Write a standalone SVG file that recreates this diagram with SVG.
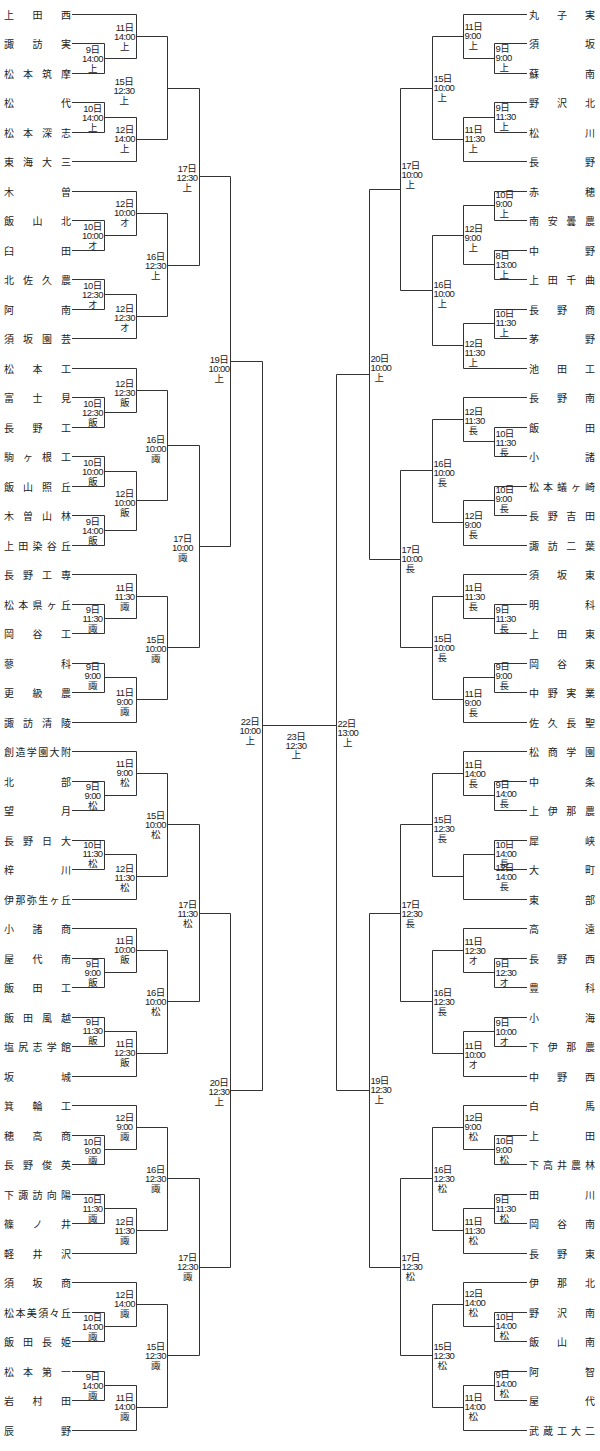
<svg xmlns="http://www.w3.org/2000/svg" width="600" height="1451" viewBox="0 0 600 1451">
<style>
.c{fill:none;stroke:#333;stroke-width:1}
.t{font-family:'Noto Sans CJK JP','Noto Sans CJK SC',sans-serif;font-size:10px;fill:#222}
.l{font-family:'Liberation Sans','Noto Sans CJK JP',sans-serif;font-size:9.5px;fill:#222;letter-spacing:-0.6px}
.l text{text-anchor:middle}
.r text{text-anchor:start}
.r .v{text-anchor:middle}
</style>
<rect width="600" height="1451" fill="#fff"/>
<g id="connectors" class="c">
<path d="M72 14.5H136.5M72 43.5H104.5M72 73.5H104.5M72 102.5H104.5M72 132.5H104.5M72 161.5H136.5M72 191.5H136.5M72 220.5H104.5M72 250.5H104.5M72 279.5H104.5M72 309.5H104.5M72 338.5H136.5M72 368.5H136.5M72 397.5H104.5M72 427.5H104.5M72 456.5H104.5M72 486.5H104.5M72 515.5H104.5M72 545.5H104.5M72 574.5H136.5M72 604.5H104.5M72 633.5H104.5M72 663.5H104.5M72 692.5H104.5M72 722.5H136.5M72 751.5H136.5M72 781.5H104.5M72 810.5H104.5M72 840.5H104.5M72 869.5H104.5M72 899.5H136.5M72 928.5H136.5M72 958.5H104.5M72 987.5H104.5M72 1017.5H104.5M72 1046.5H104.5M72 1076.5H136.5M72 1105.5H136.5M72 1135.5H104.5M72 1164.5H104.5M72 1194.5H104.5M72 1223.5H104.5M72 1253.5H136.5M72 1282.5H136.5M72 1312.5H104.5M72 1341.5H104.5M72 1371.5H104.5M72 1400.5H104.5M72 1430.5H136.5"/>
<path d="M104.5 43.5V73.5M104.5 58.5H136.5M104.5 102.5V132.5M104.5 117.5H136.5M104.5 220.5V250.5M104.5 235.5H136.5M104.5 279.5V309.5M104.5 294.5H136.5M104.5 397.5V427.5M104.5 412.5H136.5M104.5 456.5V486.5M104.5 471.5H136.5M104.5 515.5V545.5M104.5 530.5H136.5M104.5 604.5V633.5M104.5 618.5H136.5M104.5 663.5V692.5M104.5 677.5H136.5M104.5 781.5V810.5M104.5 795.5H136.5M104.5 840.5V869.5M104.5 854.5H136.5M104.5 958.5V987.5M104.5 972.5H136.5M104.5 1017.5V1046.5M104.5 1031.5H136.5M104.5 1135.5V1164.5M104.5 1149.5H136.5M104.5 1194.5V1223.5M104.5 1208.5H136.5M104.5 1312.5V1341.5M104.5 1326.5H136.5M104.5 1371.5V1400.5M104.5 1385.5H136.5"/>
<path d="M136.5 14.5V58.5M136.5 36.5H167.5M136.5 117.5V161.5M136.5 139.5H167.5M136.5 191.5V235.5M136.5 213.5H167.5M136.5 294.5V338.5M136.5 316.5H167.5M136.5 368.5V412.5M136.5 390.5H167.5M136.5 471.5V530.5M136.5 500.5H167.5M136.5 574.5V618.5M136.5 596.5H167.5M136.5 677.5V722.5M136.5 699.5H167.5M136.5 751.5V795.5M136.5 773.5H167.5M136.5 854.5V899.5M136.5 876.5H167.5M136.5 928.5V972.5M136.5 950.5H167.5M136.5 1031.5V1076.5M136.5 1053.5H167.5M136.5 1105.5V1149.5M136.5 1127.5H167.5M136.5 1208.5V1253.5M136.5 1230.5H167.5M136.5 1282.5V1326.5M136.5 1304.5H167.5M136.5 1385.5V1430.5M136.5 1407.5H167.5"/>
<path d="M167.5 36.5V139.5M167.5 88.5H199.5M167.5 213.5V316.5M167.5 265.5H199.5M167.5 390.5V500.5M167.5 445.5H199.5M167.5 596.5V699.5M167.5 647.5H199.5M167.5 773.5V876.5M167.5 824.5H199.5M167.5 950.5V1053.5M167.5 1001.5H199.5M167.5 1127.5V1230.5M167.5 1178.5H199.5M167.5 1304.5V1407.5M167.5 1355.5H199.5"/>
<path d="M199.5 88.5V265.5M199.5 176.5H230.5M199.5 445.5V647.5M199.5 546.5H230.5M199.5 824.5V1001.5M199.5 913.5H230.5M199.5 1178.5V1355.5M199.5 1267.5H230.5"/>
<path d="M230.5 176.5V546.5M230.5 361.5H262.5M230.5 913.5V1267.5M230.5 1090.5H262.5M262.5 361.5V1090.5M262.5 725.5H336.5"/>
<path d="M463.5 14.5H527M494.5 43.5H527M494.5 73.5H527M494.5 102.5H527M494.5 132.5H527M463.5 161.5H527M494.5 191.5H527M494.5 220.5H527M494.5 250.5H527M494.5 279.5H527M494.5 309.5H527M494.5 338.5H527M463.5 368.5H527M463.5 397.5H527M494.5 427.5H527M494.5 456.5H527M494.5 486.5H527M494.5 515.5H527M463.5 545.5H527M463.5 574.5H527M494.5 604.5H527M494.5 633.5H527M494.5 663.5H527M494.5 692.5H527M463.5 722.5H527M463.5 751.5H527M494.5 781.5H527M494.5 810.5H527M494.5 840.5H527M494.5 869.5H527M463.5 899.5H527M463.5 928.5H527M494.5 958.5H527M494.5 987.5H527M494.5 1017.5H527M494.5 1046.5H527M463.5 1076.5H527M463.5 1105.5H527M494.5 1135.5H527M494.5 1164.5H527M494.5 1194.5H527M494.5 1223.5H527M463.5 1253.5H527M463.5 1282.5H527M494.5 1312.5H527M494.5 1341.5H527M494.5 1371.5H527M494.5 1400.5H527M463.5 1430.5H527"/>
<path d="M494.5 43.5V73.5M494.5 58.5H463.5M494.5 102.5V132.5M494.5 117.5H463.5M494.5 191.5V220.5M494.5 205.5H463.5M494.5 250.5V279.5M494.5 264.5H463.5M494.5 309.5V338.5M494.5 323.5H463.5M494.5 427.5V456.5M494.5 441.5H463.5M494.5 486.5V515.5M494.5 500.5H463.5M494.5 604.5V633.5M494.5 618.5H463.5M494.5 663.5V692.5M494.5 677.5H463.5M494.5 781.5V810.5M494.5 795.5H463.5M494.5 840.5V869.5M494.5 854.5H463.5M494.5 958.5V987.5M494.5 972.5H463.5M494.5 1017.5V1046.5M494.5 1031.5H463.5M494.5 1135.5V1164.5M494.5 1149.5H463.5M494.5 1194.5V1223.5M494.5 1208.5H463.5M494.5 1312.5V1341.5M494.5 1326.5H463.5M494.5 1371.5V1400.5M494.5 1385.5H463.5"/>
<path d="M463.5 14.5V58.5M463.5 36.5H432.5M463.5 117.5V161.5M463.5 139.5H432.5M463.5 205.5V264.5M463.5 235.5H432.5M463.5 323.5V368.5M463.5 345.5H432.5M463.5 397.5V441.5M463.5 419.5H432.5M463.5 500.5V545.5M463.5 522.5H432.5M463.5 574.5V618.5M463.5 596.5H432.5M463.5 677.5V722.5M463.5 699.5H432.5M463.5 751.5V795.5M463.5 773.5H432.5M463.5 854.5V899.5M463.5 876.5H432.5M463.5 928.5V972.5M463.5 950.5H432.5M463.5 1031.5V1076.5M463.5 1053.5H432.5M463.5 1105.5V1149.5M463.5 1127.5H432.5M463.5 1208.5V1253.5M463.5 1230.5H432.5M463.5 1282.5V1326.5M463.5 1304.5H432.5M463.5 1385.5V1430.5M463.5 1407.5H432.5"/>
<path d="M432.5 36.5V139.5M432.5 88.5H400.5M432.5 235.5V345.5M432.5 290.5H400.5M432.5 419.5V522.5M432.5 470.5H400.5M432.5 596.5V699.5M432.5 647.5H400.5M432.5 773.5V876.5M432.5 824.5H400.5M432.5 950.5V1053.5M432.5 1001.5H400.5M432.5 1127.5V1230.5M432.5 1178.5H400.5M432.5 1304.5V1407.5M432.5 1355.5H400.5"/>
<path d="M400.5 88.5V290.5M400.5 189.5H369.5M400.5 470.5V647.5M400.5 559.5H369.5M400.5 824.5V1001.5M400.5 913.5H369.5M400.5 1178.5V1355.5M400.5 1267.5H369.5"/>
<path d="M369.5 189.5V559.5M369.5 374.5H336.5M369.5 913.5V1267.5M369.5 1090.5H336.5M336.5 374.5V1090.5"/>
</g>
<g id="teams-left" class="t">
<g id="L0"><text x="4 32.5 61" y="18.5">上田西</text></g>
<g id="L1"><text x="4 32.5 61" y="47.5">諏訪実</text></g>
<g id="L2"><text x="4 23 42 61" y="77.5">松本筑摩</text></g>
<g id="L3"><text x="4 61" y="106.5">松代</text></g>
<g id="L4"><text x="4 23 42 61" y="136.5">松本深志</text></g>
<g id="L5"><text x="4 23 42 61" y="165.5">東海大三</text></g>
<g id="L6"><text x="4 61" y="195.5">木曽</text></g>
<g id="L7"><text x="4 32.5 61" y="224.5">飯山北</text></g>
<g id="L8"><text x="4 61" y="254.5">臼田</text></g>
<g id="L9"><text x="4 23 42 61" y="283.5">北佐久農</text></g>
<g id="L10"><text x="4 61" y="313.5">阿南</text></g>
<g id="L11"><text x="4 23 42 61" y="342.5">須坂園芸</text></g>
<g id="L12"><text x="4 32.5 61" y="372.5">松本工</text></g>
<g id="L13"><text x="4 32.5 61" y="401.5">富士見</text></g>
<g id="L14"><text x="4 32.5 61" y="431.5">長野工</text></g>
<g id="L15"><text x="4 23 42 61" y="460.5">駒ヶ根工</text></g>
<g id="L16"><text x="4 23 42 61" y="490.5">飯山照丘</text></g>
<g id="L17"><text x="4 23 42 61" y="519.5">木曽山林</text></g>
<g id="L18"><text x="4 18.25 32.5 46.75 61" y="549.5">上田染谷丘</text></g>
<g id="L19"><text x="4 23 42 61" y="578.5">長野工専</text></g>
<g id="L20"><text x="4 18.25 32.5 46.75 61" y="608.5">松本県ヶ丘</text></g>
<g id="L21"><text x="4 32.5 61" y="637.5">岡谷工</text></g>
<g id="L22"><text x="4 61" y="667.5">蓼科</text></g>
<g id="L23"><text x="4 32.5 61" y="696.5">更級農</text></g>
<g id="L24"><text x="4 23 42 61" y="726.5">諏訪清陵</text></g>
<g id="L25"><text x="4 15.4 26.8 38.2 49.6 61" y="755.5">創造学園大附</text></g>
<g id="L26"><text x="4 61" y="785.5">北部</text></g>
<g id="L27"><text x="4 61" y="814.5">望月</text></g>
<g id="L28"><text x="4 23 42 61" y="844.5">長野日大</text></g>
<g id="L29"><text x="4 61" y="873.5">梓川</text></g>
<g id="L30"><text x="4 15.4 26.8 38.2 49.6 61" y="903.5">伊那弥生ヶ丘</text></g>
<g id="L31"><text x="4 32.5 61" y="932.5">小諸商</text></g>
<g id="L32"><text x="4 32.5 61" y="962.5">屋代南</text></g>
<g id="L33"><text x="4 32.5 61" y="991.5">飯田工</text></g>
<g id="L34"><text x="4 23 42 61" y="1021.5">飯田風越</text></g>
<g id="L35"><text x="4 18.25 32.5 46.75 61" y="1050.5">塩尻志学館</text></g>
<g id="L36"><text x="4 61" y="1080.5">坂城</text></g>
<g id="L37"><text x="4 32.5 61" y="1109.5">箕輪工</text></g>
<g id="L38"><text x="4 32.5 61" y="1139.5">穂高商</text></g>
<g id="L39"><text x="4 23 42 61" y="1168.5">長野俊英</text></g>
<g id="L40"><text x="4 18.25 32.5 46.75 61" y="1198.5">下諏訪向陽</text></g>
<g id="L41"><text x="4 32.5 61" y="1227.5">篠ノ井</text></g>
<g id="L42"><text x="4 32.5 61" y="1257.5">軽井沢</text></g>
<g id="L43"><text x="4 32.5 61" y="1286.5">須坂商</text></g>
<g id="L44"><text x="4 15.4 26.8 38.2 49.6 61" y="1316.5">松本美須々丘</text></g>
<g id="L45"><text x="4 23 42 61" y="1345.5">飯田長姫</text></g>
<g id="L46"><text x="4 23 42 61" y="1375.5">松本第一</text></g>
<g id="L47"><text x="4 32.5 61" y="1404.5">岩村田</text></g>
<g id="L48"><text x="4 61" y="1434.5">辰野</text></g>
</g>
<g id="teams-right" class="t">
<g id="R0"><text x="529 557 585" y="18.5">丸子実</text></g>
<g id="R1"><text x="529 585" y="47.5">須坂</text></g>
<g id="R2"><text x="529 585" y="77.5">蘇南</text></g>
<g id="R3"><text x="529 557 585" y="106.5">野沢北</text></g>
<g id="R4"><text x="529 585" y="136.5">松川</text></g>
<g id="R5"><text x="529 585" y="165.5">長野</text></g>
<g id="R6"><text x="529 585" y="195.5">赤穂</text></g>
<g id="R7"><text x="529 547.7 566.3 585" y="224.5">南安曇農</text></g>
<g id="R8"><text x="529 585" y="254.5">中野</text></g>
<g id="R9"><text x="529 547.7 566.3 585" y="283.5">上田千曲</text></g>
<g id="R10"><text x="529 557 585" y="313.5">長野商</text></g>
<g id="R11"><text x="529 585" y="342.5">茅野</text></g>
<g id="R12"><text x="529 557 585" y="372.5">池田工</text></g>
<g id="R13"><text x="529 557 585" y="401.5">長野南</text></g>
<g id="R14"><text x="529 585" y="431.5">飯田</text></g>
<g id="R15"><text x="529 585" y="460.5">小諸</text></g>
<g id="R16"><text x="529 543 557 571 585" y="490.5">松本蟻ヶ崎</text></g>
<g id="R17"><text x="529 547.7 566.3 585" y="519.5">長野吉田</text></g>
<g id="R18"><text x="529 547.7 566.3 585" y="549.5">諏訪二葉</text></g>
<g id="R19"><text x="529 557 585" y="578.5">須坂東</text></g>
<g id="R20"><text x="529 585" y="608.5">明科</text></g>
<g id="R21"><text x="529 557 585" y="637.5">上田東</text></g>
<g id="R22"><text x="529 557 585" y="667.5">岡谷東</text></g>
<g id="R23"><text x="529 547.7 566.3 585" y="696.5">中野実業</text></g>
<g id="R24"><text x="529 547.7 566.3 585" y="726.5">佐久長聖</text></g>
<g id="R25"><text x="529 547.7 566.3 585" y="755.5">松商学園</text></g>
<g id="R26"><text x="529 585" y="785.5">中条</text></g>
<g id="R27"><text x="529 547.7 566.3 585" y="814.5">上伊那農</text></g>
<g id="R28"><text x="529 585" y="844.5">犀峡</text></g>
<g id="R29"><text x="529 585" y="873.5">大町</text></g>
<g id="R30"><text x="529 585" y="903.5">東部</text></g>
<g id="R31"><text x="529 585" y="932.5">高遠</text></g>
<g id="R32"><text x="529 557 585" y="962.5">長野西</text></g>
<g id="R33"><text x="529 585" y="991.5">豊科</text></g>
<g id="R34"><text x="529 585" y="1021.5">小海</text></g>
<g id="R35"><text x="529 547.7 566.3 585" y="1050.5">下伊那農</text></g>
<g id="R36"><text x="529 557 585" y="1080.5">中野西</text></g>
<g id="R37"><text x="529 585" y="1109.5">白馬</text></g>
<g id="R38"><text x="529 585" y="1139.5">上田</text></g>
<g id="R39"><text x="529 543 557 571 585" y="1168.5">下高井農林</text></g>
<g id="R40"><text x="529 585" y="1198.5">田川</text></g>
<g id="R41"><text x="529 557 585" y="1227.5">岡谷南</text></g>
<g id="R42"><text x="529 557 585" y="1257.5">長野東</text></g>
<g id="R43"><text x="529 557 585" y="1286.5">伊那北</text></g>
<g id="R44"><text x="529 557 585" y="1316.5">野沢南</text></g>
<g id="R45"><text x="529 557 585" y="1345.5">飯山南</text></g>
<g id="R46"><text x="529 585" y="1375.5">阿智</text></g>
<g id="R47"><text x="529 585" y="1404.5">屋代</text></g>
<g id="R48"><text x="529 543 557 571 585" y="1434.5">武蔵工大二</text></g>
</g>
<g id="matches-left" class="l">
<g id="ml1" transform="translate(92.5,52.7)"><text>9日</text><text y="9">14:00</text><text y="19">上</text></g>
<g id="ml2" transform="translate(92.5,111.7)"><text>10日</text><text y="9">14:00</text><text y="19">上</text></g>
<g id="ml3" transform="translate(92.5,230)"><text>10日</text><text y="9">10:00</text><text y="19">オ</text></g>
<g id="ml4" transform="translate(92.5,289)"><text>10日</text><text y="9">12:30</text><text y="19">オ</text></g>
<g id="ml5" transform="translate(92.5,406.7)"><text>10日</text><text y="9">12:30</text><text y="19">飯</text></g>
<g id="ml6" transform="translate(92.5,465.7)"><text>10日</text><text y="9">10:00</text><text y="19">飯</text></g>
<g id="ml7" transform="translate(92.5,525)"><text>9日</text><text y="9">14:00</text><text y="19">飯</text></g>
<g id="ml8" transform="translate(92.5,613.3)"><text>9日</text><text y="9">11:30</text><text y="19">諏</text></g>
<g id="ml9" transform="translate(92.5,670)"><text>9日</text><text y="9">9:00</text><text y="19">諏</text></g>
<g id="ml10" transform="translate(92.5,790)"><text>9日</text><text y="9">9:00</text><text y="19">松</text></g>
<g id="ml11" transform="translate(92.5,848.3)"><text>10日</text><text y="9">11:30</text><text y="19">松</text></g>
<g id="ml12" transform="translate(92.5,966.5)"><text>9日</text><text y="9">9:00</text><text y="19">飯</text></g>
<g id="ml13" transform="translate(92.5,1025)"><text>9日</text><text y="9">11:30</text><text y="19">飯</text></g>
<g id="ml14" transform="translate(92.5,1145)"><text>10日</text><text y="9">9:00</text><text y="19">諏</text></g>
<g id="ml15" transform="translate(92.5,1202.7)"><text>10日</text><text y="9">11:30</text><text y="19">諏</text></g>
<g id="ml16" transform="translate(92.5,1320.7)"><text>10日</text><text y="9">14:00</text><text y="19">諏</text></g>
<g id="ml17" transform="translate(92.5,1380)"><text>9日</text><text y="9">14:00</text><text y="19">諏</text></g>
<g id="ml18" transform="translate(124.5,30.7)"><text>11日</text><text y="9">14:00</text><text y="19">上</text></g>
<g id="ml19" transform="translate(124.5,133.3)"><text>12日</text><text y="9">14:00</text><text y="19">上</text></g>
<g id="ml20" transform="translate(124.5,207.3)"><text>12日</text><text y="9">10:00</text><text y="19">オ</text></g>
<g id="ml21" transform="translate(124.5,311.7)"><text>12日</text><text y="9">12:30</text><text y="19">オ</text></g>
<g id="ml22" transform="translate(124.5,386.7)"><text>12日</text><text y="9">12:30</text><text y="19">飯</text></g>
<g id="ml23" transform="translate(124.5,497.3)"><text>12日</text><text y="9">10:00</text><text y="19">飯</text></g>
<g id="ml24" transform="translate(124.5,591)"><text>11日</text><text y="9">11:30</text><text y="19">諏</text></g>
<g id="ml25" transform="translate(124.5,696)"><text>11日</text><text y="9">9:00</text><text y="19">諏</text></g>
<g id="ml26" transform="translate(124.5,767.3)"><text>11日</text><text y="9">9:00</text><text y="19">松</text></g>
<g id="ml27" transform="translate(124.5,871.7)"><text>12日</text><text y="9">11:30</text><text y="19">松</text></g>
<g id="ml28" transform="translate(124.5,944.3)"><text>11日</text><text y="9">10:00</text><text y="19">飯</text></g>
<g id="ml29" transform="translate(124.5,1047.3)"><text>11日</text><text y="9">12:30</text><text y="19">飯</text></g>
<g id="ml30" transform="translate(124.5,1121)"><text>12日</text><text y="9">9:00</text><text y="19">諏</text></g>
<g id="ml31" transform="translate(124.5,1225)"><text>12日</text><text y="9">11:30</text><text y="19">諏</text></g>
<g id="ml32" transform="translate(124.5,1297.7)"><text>12日</text><text y="9">14:00</text><text y="19">諏</text></g>
<g id="ml33" transform="translate(124.5,1401)"><text>11日</text><text y="9">14:00</text><text y="19">諏</text></g>
<g id="ml34" transform="translate(124,85)"><text>15日</text><text y="9">12:30</text><text y="19">上</text></g>
<g id="ml35" transform="translate(155.5,260)"><text>16日</text><text y="9">12:30</text><text y="19">上</text></g>
<g id="ml36" transform="translate(155.5,443.3)"><text>16日</text><text y="9">10:00</text><text y="19">諏</text></g>
<g id="ml37" transform="translate(155.5,643.3)"><text>15日</text><text y="9">10:00</text><text y="19">諏</text></g>
<g id="ml38" transform="translate(155.5,819)"><text>15日</text><text y="9">10:00</text><text y="19">松</text></g>
<g id="ml39" transform="translate(155.5,996)"><text>16日</text><text y="9">10:00</text><text y="19">松</text></g>
<g id="ml40" transform="translate(155.5,1173.3)"><text>16日</text><text y="9">12:30</text><text y="19">諏</text></g>
<g id="ml41" transform="translate(155.5,1350)"><text>15日</text><text y="9">12:30</text><text y="19">諏</text></g>
<g id="ml42" transform="translate(187,172.3)"><text>17日</text><text y="9">12:30</text><text y="19">上</text></g>
<g id="ml43" transform="translate(182.5,542.3)"><text>17日</text><text y="9">10:00</text><text y="19">諏</text></g>
<g id="ml44" transform="translate(187.5,907.7)"><text>17日</text><text y="9">11:30</text><text y="19">松</text></g>
<g id="ml45" transform="translate(187.5,1260.7)"><text>17日</text><text y="9">12:30</text><text y="19">諏</text></g>
<g id="ml46" transform="translate(219,362.7)"><text>19日</text><text y="9">10:00</text><text y="19">上</text></g>
<g id="ml47" transform="translate(219,1086)"><text>20日</text><text y="9">12:30</text><text y="19">上</text></g>
<g id="ml48" transform="translate(250,725)"><text>22日</text><text y="9">10:00</text><text y="19">上</text></g>
</g>
<g id="final" class="l" transform="translate(296,740)"><text>23日</text><text y="8.5">12:30</text><text y="17.5">上</text></g>
<g id="matches-right" class="l r">
<g id="mr1" transform="translate(495.5,51.7)"><text>9日</text><text y="9">9:00</text><text class="v" x="8.5" y="19">上</text></g>
<g id="mr2" transform="translate(495.5,111)"><text>9日</text><text y="9">11:30</text><text class="v" x="8.5" y="19">上</text></g>
<g id="mr3" transform="translate(495.5,198.3)"><text>10日</text><text y="9">9:00</text><text class="v" x="8.5" y="19">上</text></g>
<g id="mr4" transform="translate(495.5,259)"><text>8日</text><text y="9">13:00</text><text class="v" x="8.5" y="19">上</text></g>
<g id="mr5" transform="translate(495.5,316.7)"><text>10日</text><text y="9">11:30</text><text class="v" x="8.5" y="19">上</text></g>
<g id="mr6" transform="translate(495.5,437.3)"><text>10日</text><text y="9">11:30</text><text class="v" x="8.5" y="19">長</text></g>
<g id="mr7" transform="translate(495.5,493.3)"><text>10日</text><text y="9">9:00</text><text class="v" x="8.5" y="19">長</text></g>
<g id="mr8" transform="translate(495.5,612.7)"><text>9日</text><text y="9">11:30</text><text class="v" x="8.5" y="19">長</text></g>
<g id="mr9" transform="translate(495.5,670)"><text>9日</text><text y="9">9:00</text><text class="v" x="8.5" y="19">長</text></g>
<g id="mr10" transform="translate(495.5,788.3)"><text>9日</text><text y="9">14:00</text><text class="v" x="8.5" y="19">長</text></g>
<g id="mr11" transform="translate(495.5,848.3)"><text>10日</text><text y="9">14:00</text><text class="v" x="8.5" y="19">長</text></g>
<g id="mr12" transform="translate(495.5,966.7)"><text>9日</text><text y="9">12:30</text><text class="v" x="8.5" y="19">オ</text></g>
<g id="mr13" transform="translate(495.5,1025.7)"><text>9日</text><text y="9">10:00</text><text class="v" x="8.5" y="19">オ</text></g>
<g id="mr14" transform="translate(495.5,1144.3)"><text>10日</text><text y="9">9:00</text><text class="v" x="8.5" y="19">松</text></g>
<g id="mr15" transform="translate(495.5,1202.7)"><text>9日</text><text y="9">11:30</text><text class="v" x="8.5" y="19">松</text></g>
<g id="mr16" transform="translate(495.5,1320)"><text>10日</text><text y="9">14:00</text><text class="v" x="8.5" y="19">松</text></g>
<g id="mr17" transform="translate(495.5,1378.3)"><text>9日</text><text y="9">14:00</text><text class="v" x="8.5" y="19">松</text></g>
<g id="mr18" transform="translate(464.5,30)"><text>11日</text><text y="9">9:00</text><text class="v" x="8.5" y="19">上</text></g>
<g id="mr19" transform="translate(464.5,132.7)"><text>11日</text><text y="9">11:30</text><text class="v" x="8.5" y="19">上</text></g>
<g id="mr20" transform="translate(464.5,231.7)"><text>12日</text><text y="9">9:00</text><text class="v" x="8.5" y="19">上</text></g>
<g id="mr21" transform="translate(464.5,346.7)"><text>12日</text><text y="9">11:30</text><text class="v" x="8.5" y="19">上</text></g>
<g id="mr22" transform="translate(464.5,415)"><text>12日</text><text y="9">11:30</text><text class="v" x="8.5" y="19">長</text></g>
<g id="mr23" transform="translate(464.5,519)"><text>12日</text><text y="9">9:00</text><text class="v" x="8.5" y="19">長</text></g>
<g id="mr24" transform="translate(464.5,590.7)"><text>11日</text><text y="9">11:30</text><text class="v" x="8.5" y="19">長</text></g>
<g id="mr25" transform="translate(464.5,696.7)"><text>11日</text><text y="9">9:00</text><text class="v" x="8.5" y="19">長</text></g>
<g id="mr26" transform="translate(464.5,767.7)"><text>11日</text><text y="9">14:00</text><text class="v" x="8.5" y="19">長</text></g>
<g id="mr27" transform="translate(495.5,870.7)"><text>12日</text><text y="9">14:00</text><text class="v" x="8.5" y="19">長</text></g>
<g id="mr28" transform="translate(464.5,945)"><text>11日</text><text y="9">12:30</text><text class="v" x="8.5" y="19">オ</text></g>
<g id="mr29" transform="translate(464.5,1049.3)"><text>11日</text><text y="9">10:00</text><text class="v" x="8.5" y="19">オ</text></g>
<g id="mr30" transform="translate(464.5,1120.7)"><text>12日</text><text y="9">9:00</text><text class="v" x="8.5" y="19">松</text></g>
<g id="mr31" transform="translate(464.5,1225)"><text>11日</text><text y="9">11:30</text><text class="v" x="8.5" y="19">松</text></g>
<g id="mr32" transform="translate(464.5,1297.3)"><text>12日</text><text y="9">14:00</text><text class="v" x="8.5" y="19">松</text></g>
<g id="mr33" transform="translate(464.5,1401)"><text>11日</text><text y="9">14:00</text><text class="v" x="8.5" y="19">松</text></g>
<g id="mr34" transform="translate(433.5,81.7)"><text>15日</text><text y="9">10:00</text><text class="v" x="8.5" y="19">上</text></g>
<g id="mr35" transform="translate(433.5,287.7)"><text>16日</text><text y="9">10:00</text><text class="v" x="8.5" y="19">上</text></g>
<g id="mr36" transform="translate(433.5,467.3)"><text>16日</text><text y="9">10:00</text><text class="v" x="8.5" y="19">長</text></g>
<g id="mr37" transform="translate(433.5,641.7)"><text>15日</text><text y="9">10:00</text><text class="v" x="8.5" y="19">長</text></g>
<g id="mr38" transform="translate(433.5,823.3)"><text>15日</text><text y="9">12:30</text><text class="v" x="8.5" y="19">長</text></g>
<g id="mr39" transform="translate(433.5,996)"><text>16日</text><text y="9">12:30</text><text class="v" x="8.5" y="19">長</text></g>
<g id="mr40" transform="translate(433.5,1173.3)"><text>16日</text><text y="9">12:30</text><text class="v" x="8.5" y="19">松</text></g>
<g id="mr41" transform="translate(433.5,1350)"><text>15日</text><text y="9">12:30</text><text class="v" x="8.5" y="19">松</text></g>
<g id="mr42" transform="translate(401.5,169.3)"><text>17日</text><text y="9">10:00</text><text class="v" x="8.5" y="19">上</text></g>
<g id="mr43" transform="translate(401.5,553.3)"><text>17日</text><text y="9">10:00</text><text class="v" x="8.5" y="19">長</text></g>
<g id="mr44" transform="translate(401.5,907.7)"><text>17日</text><text y="9">12:30</text><text class="v" x="8.5" y="19">長</text></g>
<g id="mr45" transform="translate(401.5,1261)"><text>17日</text><text y="9">12:30</text><text class="v" x="8.5" y="19">松</text></g>
<g id="mr46" transform="translate(370.5,362)"><text>20日</text><text y="9">10:00</text><text class="v" x="8.5" y="19">上</text></g>
<g id="mr47" transform="translate(370.5,1084)"><text>19日</text><text y="9">12:30</text><text class="v" x="8.5" y="19">上</text></g>
<g id="mr48" transform="translate(337.5,727)"><text>22日</text><text y="9">13:00</text><text class="v" x="10" y="19">上</text></g>
</g>
</svg>
